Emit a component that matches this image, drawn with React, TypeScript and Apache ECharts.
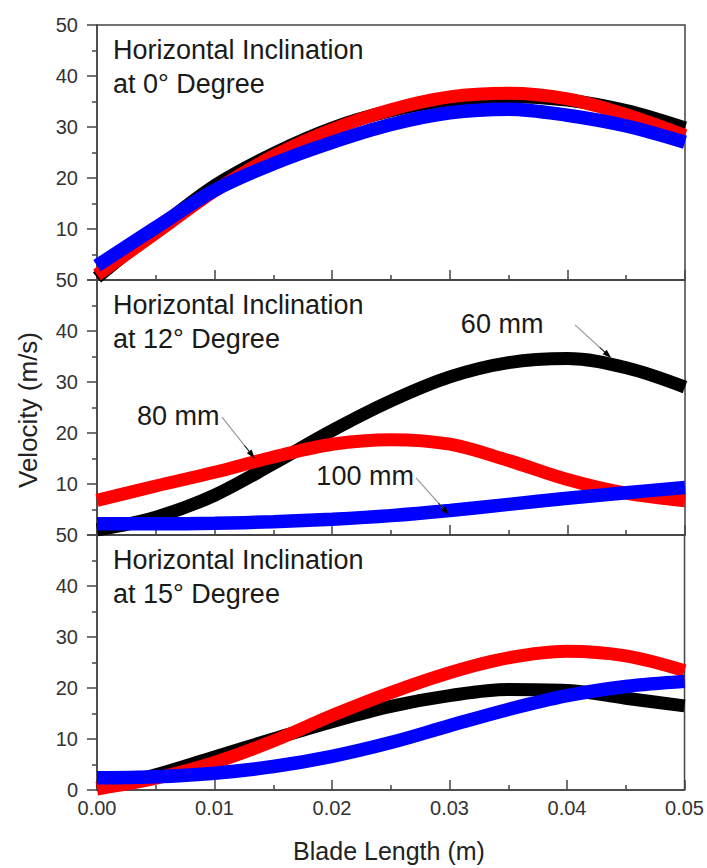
import React, { useEffect, useRef } from "react";
import * as echarts from "echarts";

// Blade length (m)
const BLADE_LENGTH = [0, 0.005, 0.01, 0.015, 0.02, 0.025, 0.03, 0.035, 0.04, 0.045, 0.05];
const X_TICK_LABELS = ["0.00", "0.01", "0.02", "0.03", "0.04", "0.05"];

// Velocity (m/s) — Horizontal inclination 0°
const DEG0_60MM = [0.5, 9.8, 18.5, 24.8, 29.8, 33.2, 35.3, 36.0, 35.3, 33.2, 29.8];
const DEG0_80MM = [1.0, 9.2, 17.5, 24.3, 29.5, 33.4, 35.9, 36.6, 35.5, 32.4, 28.3];
const DEG0_100MM = [2.8, 10.3, 17.6, 22.8, 27.0, 30.5, 32.8, 33.5, 32.3, 30.2, 27.0];

// Horizontal inclination 12°
const DEG12_60MM = [1.0, 3.5, 7.8, 14.0, 20.5, 26.3, 31.0, 33.8, 34.6, 32.8, 29.0];
const DEG12_80MM = [6.8, 9.6, 12.3, 15.3, 17.8, 18.7, 17.8, 14.6, 10.9, 8.2, 6.7];
const DEG12_100MM = [2.2, 2.2, 2.3, 2.6, 3.1, 3.8, 4.8, 6.0, 7.2, 8.3, 9.3];

// Horizontal inclination 15°
const DEG15_60MM = [0.3, 3.0, 6.5, 10.0, 13.4, 16.4, 18.5, 19.7, 19.5, 18.0, 16.5];
const DEG15_80MM = [0.2, 2.3, 5.4, 9.6, 14.6, 19.1, 23.0, 25.9, 27.2, 26.3, 23.4];
const DEG15_100MM = [2.4, 2.6, 3.3, 4.6, 6.6, 9.3, 12.6, 15.8, 18.5, 20.3, 21.3];

const PANEL_TITLES = [
  ["Horizontal Inclination", "at 0° Degree"],
  ["Horizontal Inclination", "at 12° Degree"],
  ["Horizontal Inclination", "at 15° Degree"],
];
const PANEL_SERIES = [
  [DEG0_60MM, DEG0_80MM, DEG0_100MM],
  [DEG12_60MM, DEG12_80MM, DEG12_100MM],
  [DEG15_60MM, DEG15_80MM, DEG15_100MM],
];
const SERIES_NAMES = ["60 mm", "80 mm", "100 mm"];
const SERIES_COLORS = ["#000000", "#ff0000", "#0000ff"];

// Annotations in the 12° panel: label position and arrow [start, end] in data coords
const ANNOT_LABELS = [
  { name: "60 mm", x: 0.03445, y: 41.3 },
  { name: "80 mm", x: 0.0069, y: 23.3 },
  { name: "100 mm", x: 0.0228, y: 11.5 },
];
const ANNOT_ARROWS = [
  [[0.04065, 41.2], [0.04345, 35.3]],
  [[0.01063, 23.1], [0.01318, 15.7]],
  [[0.02713, 11.2], [0.02968, 4.6]],
];

const FONT = "'Liberation Sans', Arial, Helvetica, sans-serif";

export default function App() {
  const ref = useRef<HTMLDivElement>(null);

  useEffect(() => {
    if (!ref.current) return;
    const chart = echarts.init(ref.current, undefined, { renderer: "svg" });

    const left = 97;
    const right = 22;
    const tops = [25, 280, 535];
    const h = 255;
    const axisColor = "#444";

    const grids = tops.map((t) => ({
      left,
      right,
      top: t,
      height: h,
      show: true,
      borderColor: axisColor,
      borderWidth: 1.5,
      backgroundColor: "transparent",
    }));

    const xAxes = tops.map((_, i) => ({
      type: "value",
      gridIndex: i,
      min: 0,
      max: 0.05,
      interval: 0.01,
      axisLine: { show: true, lineStyle: { color: axisColor, width: 1.5 } },
      axisTick: { show: true, inside: true, length: 10, lineStyle: { color: axisColor, width: 1.5 } },
      minorTick: { show: true, splitNumber: 2, length: 5, lineStyle: { color: axisColor, width: 1.5 } },
      splitLine: { show: false },
      axisLabel: {
        show: i === 2,
        margin: 8,
        fontSize: 20,
        fontFamily: FONT,
        color: "#333",
        formatter: (v: number) => X_TICK_LABELS[Math.round(v / 0.01)] ?? v.toFixed(2),
      },
    }));

    const yAxes = tops.map((_, i) => ({
      type: "value",
      gridIndex: i,
      min: 0,
      max: 50,
      interval: 10,
      axisLine: { show: true, lineStyle: { color: axisColor, width: 1.5 } },
      axisTick: { show: true, inside: false, length: 10, lineStyle: { color: axisColor, width: 1.5 } },
      minorTick: { show: true, splitNumber: 2, length: 5, lineStyle: { color: axisColor, width: 1.5 } },
      splitLine: { show: false },
      axisLabel: {
        margin: 19,
        fontSize: 20,
        fontFamily: FONT,
        color: "#333",
        formatter: (v: number) => (i < 2 && v === 0 ? "" : String(v)),
      },
    }));

    const series: any[] = [];
    PANEL_SERIES.forEach((group, gi) => {
      group.forEach((vals, si) => {
        const s: any = {
          type: "line",
          name: SERIES_NAMES[si],
          xAxisIndex: gi,
          yAxisIndex: gi,
          data: BLADE_LENGTH.map((x, k) => [x, vals[k]]),
          smooth: 0.35,
          showSymbol: false,
          symbol: "none",
          lineStyle: { color: SERIES_COLORS[si], width: si === 2 ? 13.5 : 13 },
          itemStyle: { color: SERIES_COLORS[si] },
          z: 2 + si,
          silent: true,
        };
        if (gi === 1 && si === 2) {
          s.markLine = {
            silent: true,
            animation: false,
            label: { show: false },
            symbol: ["none", "none"],
            data: [
              ...ANNOT_ARROWS.map(([a, b]) => [
                { coord: a, symbol: "none", lineStyle: { color: "#9a9a9a", width: 1.2, type: "solid" } },
                { coord: b, symbol: "none" },
              ]),
              ...ANNOT_ARROWS.map(([a, b]) => [
                {
                  coord: [a[0] + (b[0] - a[0]) * 0.75, a[1] + (b[1] - a[1]) * 0.75],
                  symbol: "none",
                  lineStyle: { color: "#000", width: 1, type: "solid" },
                },
                { coord: b, symbol: "triangle", symbolSize: [6, 9] },
              ]),
            ],
          };
          s.markPoint = {
            silent: true,
            animation: false,
            symbol: "circle",
            symbolSize: 0,
            itemStyle: { color: "transparent" },
            label: {
              show: true,
              position: "inside",
              formatter: (p: any) => p.name,
              fontSize: 27,
              fontFamily: FONT,
              color: "#1a1a1a",
            },
            data: ANNOT_LABELS.map((a) => ({ name: a.name, coord: [a.x, a.y] })),
          };
        }
        series.push(s);
      });
    });

    const graphics: any[] = [];
    tops.forEach((t, i) => {
      graphics.push({
        type: "text",
        left: 113,
        top: t + 11,
        style: {
          text: PANEL_TITLES[i][0],
          font: `27px ${FONT}`,
          fill: "#1a1a1a",
        },
        silent: true,
      });
      graphics.push({
        type: "text",
        left: 113,
        top: t + 45,
        style: {
          text: PANEL_TITLES[i][1],
          font: `27px ${FONT}`,
          fill: "#1a1a1a",
        },
        silent: true,
      });
    });
    graphics.push({
      type: "text",
      x: 389,
      y: 851,
      style: {
        text: "Blade Length (m)",
        font: `25px ${FONT}`,
        fill: "#222",
        align: "center",
        verticalAlign: "middle",
      },
      silent: true,
    });
    graphics.push({
      type: "text",
      x: 28,
      y: 410,
      rotation: Math.PI / 2,
      style: {
        text: "Velocity (m/s)",
        font: `26px ${FONT}`,
        fill: "#222",
        align: "center",
        verticalAlign: "middle",
      },
      silent: true,
    });

    chart.setOption({
      animation: false,
      backgroundColor: "#ffffff",
      grid: grids,
      xAxis: xAxes,
      yAxis: yAxes,
      series,
      graphic: graphics,
    });

    return () => chart.dispose();
  }, []);

  return (
    <div
      ref={ref}
      style={{ position: "fixed", left: 0, top: 0, width: 707, height: 868, background: "#fff" }}
    />
  );
}
